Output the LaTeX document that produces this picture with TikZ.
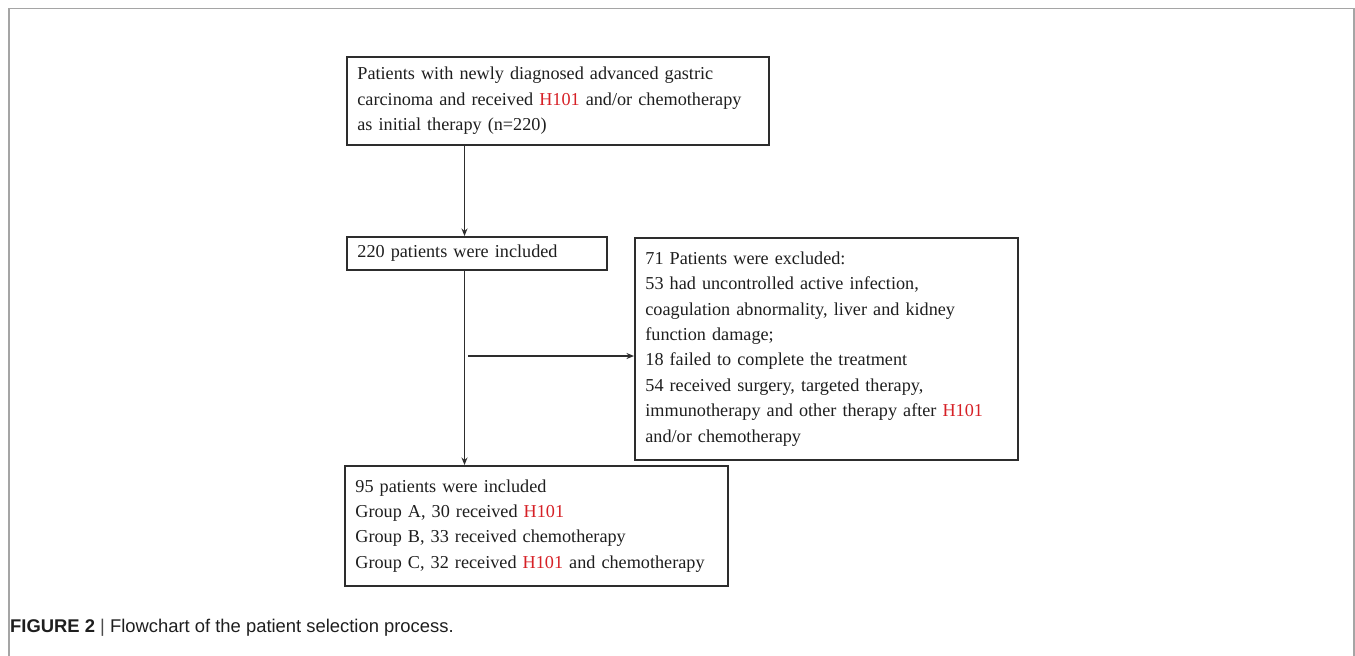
\documentclass[tikz,border=0pt]{standalone}
\usepackage{fontspec}
\setmainfont{Liberation Serif}
\newfontfamily\capfont{Liberation Sans}
\usetikzlibrary{arrows.meta}
\definecolor{hred}{RGB}{214,32,38}
\definecolor{boxline}{RGB}{45,45,45}
\definecolor{txt}{RGB}{30,30,30}
\definecolor{framegray}{RGB}{165,165,165}
\newcommand{\hc}{\textcolor{hred}{H101}}
\tikzset{
  box/.style={draw=boxline, line width=1.8pt, anchor=north west, align=left,
    inner xsep=10.5pt, inner ysep=0pt, text=txt,
    font=\fontsize{18.2}{25.4}\selectfont},
  arr/.style={draw=boxline, line width=1.5pt, -{Stealth[length=7.5pt,width=6pt]}},
  frameline/.style={draw=framegray, line width=1.8pt}
}
\begin{document}
\begin{tikzpicture}[x=1pt,y=-1pt]
\useasboundingbox (0,0) rectangle (1355,656);
\draw[frameline] (9,656) -- (9,8.5) -- (1354,8.5) -- (1354,656);
\node[box, text width=401pt, minimum height=88pt] (b1) at (346,56)
  {Patients with newly diagnosed advanced gastric\\
   carcinoma and received \hc{} and/or chemotherapy\\
   as initial therapy (n=220)};
\node[box, text width=239pt, minimum height=33pt] (b2) at (346,236)
  {220 patients were included};
\node[box, text width=362pt, minimum height=222pt] (b3) at (634,237)
  {71 Patients were excluded:\\
   53 had uncontrolled active infection,\\
   coagulation abnormality, liver and kidney\\
   function damage;\\
   18 failed to complete the treatment\\
   54 received surgery, targeted therapy,\\
   immunotherapy and other therapy after \hc\\
   and/or chemotherapy};
\node[box, text width=362pt, minimum height=120pt] (b4) at (344,465)
  {95 patients were included\\
   Group A, 30 received \hc\\
   Group B, 33 received chemotherapy\\
   Group C, 32 received \hc{} and chemotherapy};
\coordinate (ax) at (464.5,0);
\coordinate (hs) at (468,356);
\draw[arr] (ax |- b1.south) -- (ax |- b2.north);
\draw[arr] (ax |- b2.south) -- (ax |- b4.north);
\draw[arr] (hs) -- (hs -| b3.west);
\node[anchor=west, inner sep=0pt, text=txt, font=\capfont\fontsize{18.4}{21}\selectfont] (cap) at (10,628)
  {\textbf{FIGURE 2} {\color{black!70}|} Flowchart of the patient selection process.};
\end{tikzpicture}
\end{document}
